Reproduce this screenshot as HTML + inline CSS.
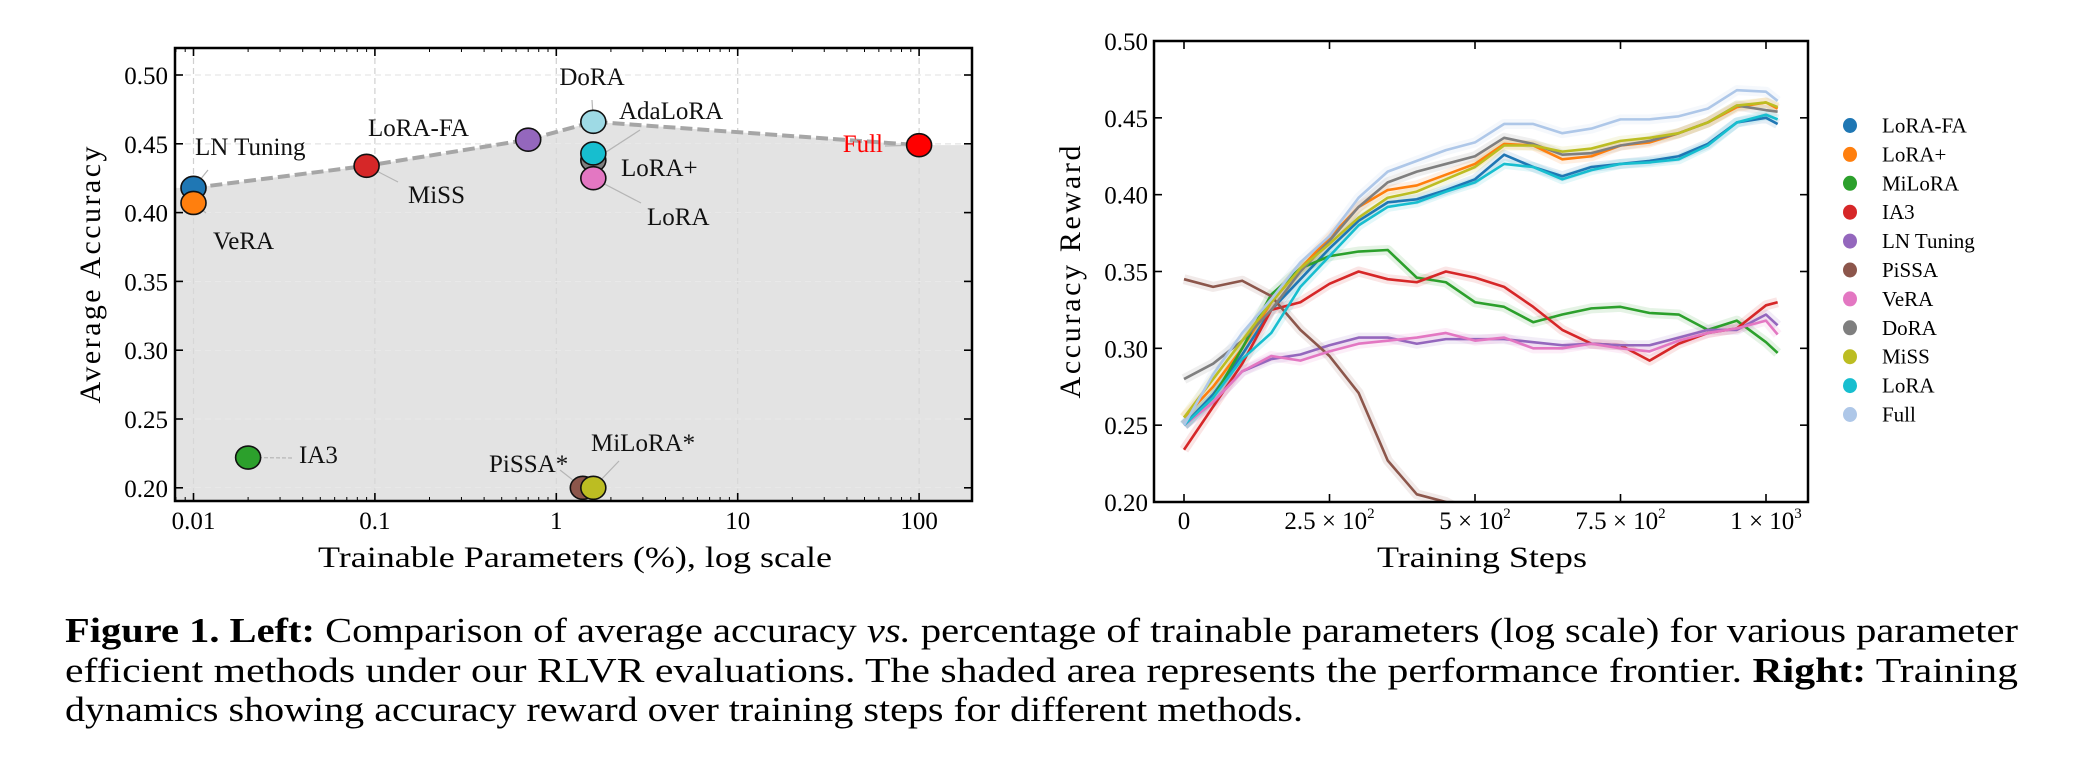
<!DOCTYPE html>
<html><head><meta charset="utf-8"><style>
html,body{margin:0;padding:0;background:#fff;}
svg{display:block;font-family:"Liberation Serif",serif;}
</style></head><body>
<svg id="fig" width="2090" height="766" viewBox="0 0 2090 766" xmlns="http://www.w3.org/2000/svg">
<defs>
<clipPath id="lclip"><rect x="175" y="48" width="797" height="453"/></clipPath>
<clipPath id="rclip"><rect x="1154" y="41" width="654" height="461"/></clipPath>
</defs>
<g id="left"></g>
<g id="right"></g>
<g font-size="35" fill="#000">
<text x="65" y="642" textLength="1953" lengthAdjust="spacingAndGlyphs"><tspan font-weight="bold">Figure 1. Left:</tspan> Comparison of average accuracy <tspan font-style="italic">vs.</tspan> percentage of trainable parameters (log scale) for various parameter</text>
<text x="65" y="682" textLength="1953" lengthAdjust="spacingAndGlyphs">efficient methods under our RLVR evaluations. The shaded area represents the performance frontier. <tspan font-weight="bold">Right:</tspan> Training</text>
<text x="65" y="721" textLength="1238" lengthAdjust="spacingAndGlyphs">dynamics showing accuracy reward over training steps for different methods.</text>
</g>
</svg>
<script>
// ---- Left chart data ----
const methodNames = ["LN Tuning","VeRA","MiSS","LoRA-FA","DoRA","AdaLoRA","LoRA+","LoRA","Full","IA3","PiSSA*","MiLoRA*"];
const methodParams = [0.01,0.01,0.09,0.7,1.6,1.6,1.6,1.6,100,0.02,1.4,1.6];
const methodAcc = [0.418,0.407,0.434,0.453,0.466,0.438,0.443,0.425,0.449,0.222,0.200,0.200];
const methodColors = ["#1f77b4","#ff7f0e","#d62728","#9467bd","#9edae5","#7f7f7f","#17becf","#e377c2","#ff0000","#2ca02c","#8c564b","#bcbd22"];
const frontierParams = [0.01,0.09,0.7,1.6,100];
const frontierAcc = [0.418,0.434,0.453,0.466,0.449];
const leftYTicks = [0.20,0.25,0.30,0.35,0.40,0.45,0.50];
const leftXTicks = [0.01,0.1,1,10,100];
const leftXTickLabels = ["0.01","0.1","1","10","100"];

// ---- Right chart data ----
const steps = [0,50,100,150,200,250,300,350,400,450,500,550,600,650,700,750,800,850,900,950,1000,1020];
const seriesNames = ["LoRA-FA","LoRA+","MiLoRA","IA3","LN Tuning","PiSSA","VeRA","DoRA","MiSS","LoRA","Full"];
const seriesColors = ["#1f77b4","#ff7f0e","#2ca02c","#d62728","#9467bd","#8c564b","#e377c2","#7f7f7f","#bcbd22","#17becf","#aec7e8"];
const loraFA = [0.25,0.27,0.296,0.325,0.345,0.365,0.383,0.395,0.397,0.403,0.41,0.426,0.418,0.412,0.418,0.42,0.422,0.425,0.433,0.447,0.45,0.446];
const loraPlus = [0.255,0.275,0.30,0.33,0.352,0.372,0.392,0.403,0.406,0.413,0.42,0.433,0.432,0.423,0.425,0.432,0.434,0.44,0.447,0.457,0.46,0.456];
const milora = [0.25,0.268,0.30,0.335,0.352,0.36,0.363,0.364,0.346,0.343,0.33,0.327,0.317,0.322,0.326,0.327,0.323,0.322,0.312,0.318,0.304,0.297];
const ia3 = [0.234,0.262,0.29,0.325,0.33,0.342,0.35,0.345,0.343,0.35,0.346,0.34,0.327,0.312,0.303,0.302,0.292,0.303,0.31,0.313,0.328,0.33];
const lnTuning = [0.25,0.265,0.285,0.293,0.296,0.302,0.307,0.307,0.303,0.306,0.306,0.306,0.304,0.302,0.303,0.302,0.302,0.307,0.312,0.312,0.322,0.315];
const pissa = [0.345,0.34,0.344,0.334,0.312,0.295,0.271,0.227,0.205,0.2,0.19,0.19,0.19,0.19,0.19,0.19,0.19,0.19,0.19,0.19,0.19,0.19];
const vera = [0.25,0.265,0.285,0.295,0.292,0.298,0.303,0.305,0.307,0.31,0.305,0.307,0.30,0.30,0.303,0.30,0.298,0.305,0.31,0.313,0.318,0.309];
const dora = [0.28,0.29,0.305,0.325,0.35,0.37,0.392,0.408,0.415,0.42,0.425,0.437,0.433,0.426,0.427,0.432,0.435,0.44,0.447,0.458,0.455,0.454];
const miss = [0.255,0.28,0.305,0.33,0.352,0.368,0.385,0.398,0.402,0.41,0.418,0.432,0.432,0.428,0.43,0.435,0.437,0.44,0.447,0.458,0.46,0.457];
const lora = [0.25,0.268,0.293,0.31,0.34,0.36,0.38,0.392,0.395,0.402,0.408,0.42,0.418,0.41,0.416,0.42,0.421,0.423,0.432,0.447,0.452,0.449];
const full = [0.25,0.283,0.31,0.332,0.356,0.373,0.398,0.415,0.422,0.429,0.434,0.446,0.446,0.44,0.443,0.449,0.449,0.451,0.456,0.468,0.467,0.461];
const rightYTicks = [0.20,0.25,0.30,0.35,0.40,0.45,0.50];
const rightXTicks = [0,250,500,750,1000];

const NS = "http://www.w3.org/2000/svg";
function mk(parent, tag, attrs, text){
  const e = document.createElementNS(NS, tag);
  for (const k in attrs) e.setAttribute(k, attrs[k]);
  if (text !== undefined) e.textContent = text;
  parent.appendChild(e);
  return e;
}

// ===== LEFT =====
const L = document.getElementById('left');
const LX0=175, LX1=972, LY0=48, LY1=501;
function lx(v){ return 193.5 + (Math.log10(v)+2)*181.4; }
function ly(v){ return 75 + (0.5 - v)*1376; }
const lplot = mk(L,'g',{'clip-path':'url(#lclip)'});


leftYTicks.forEach(t=>{
  const g = mk(lplot,'line',{x1:LX0,x2:LX1,y1:ly(t),y2:ly(t),stroke:'#d0d0d0','stroke-width':1.2,'stroke-dasharray':'6,4'});
  
  
});
leftXTicks.forEach(t=>{
  const g = mk(lplot,'line',{x1:lx(t),x2:lx(t),y1:LY0,y2:LY1,stroke:'#d0d0d0','stroke-width':1.2,'stroke-dasharray':'6,4'});
  
  
});
let pts = [[LX0, ly(frontierAcc[0])]];
frontierParams.forEach((p,i)=>pts.push([lx(p), ly(frontierAcc[i])]));
pts.push([LX1, ly(frontierAcc[frontierAcc.length-1])]);
pts.push([LX1, LY1]); pts.push([LX0, LY1]);
const fill = mk(lplot,'polygon',{points:pts.map(p=>p.join(',')).join(' '),fill:'#d9d9d9','fill-opacity':0.75});


leftYTicks.forEach(t=>{
  const g = mk(lplot,'line',{x1:LX0,x2:LX1,y1:ly(t),y2:ly(t),stroke:'#ececec','stroke-width':1,'stroke-dasharray':'6,4'});
  
  
});
const fl = mk(lplot,'polyline',{points:frontierParams.map((p,i)=>lx(p)+','+ly(frontierAcc[i])).join(' '),fill:'none',stroke:'#a6a6a6','stroke-width':4,'stroke-dasharray':'12,5'});



const labelPos = {
 "LN Tuning":[195,155,'start',[208,170]],
 "VeRA":[213,249,'start',[206,213]],
 "MiSS":[408,203,'start',[398,182]],
 "LoRA-FA":[368,136,'start',[515,138]],
 "DoRA":[592,85,'middle',[592,100]],
 "AdaLoRA":[619,119,'start',[640,130]],
 "LoRA+":[621,176,'start',[606,162]],
 "LoRA":[647,225,'start',[641,203]],
 "Full":[883,152,'end',[885,146]],
 "IA3":[299,463,'start',[292,458]],
 "PiSSA*":[489,472,'start',[560,470]],
 "MiLoRA*":[591,451,'start',[619,461]]
};
methodNames.forEach((n,i)=>{
  const px=lx(methodParams[i]), py=ly(methodAcc[i]);
  const lp=labelPos[n];
  const c = mk(L,'line',{x1:lp[3][0],y1:lp[3][1],x2:px,y2:py,stroke:'#b5b5b5','stroke-width':1.2,'stroke-dasharray':n==="IA3"?'4,2':'none'});
  
  
});
methodNames.forEach((n,i)=>{
  const m = mk(L,'ellipse',{cx:lx(methodParams[i]),cy:ly(methodAcc[i]),rx:12.5,ry:11.5,fill:methodColors[i],stroke:'#111','stroke-width':1.6});
  
  
});
methodNames.forEach((n,i)=>{
  const lp=labelPos[n];
  const t = mk(L,'text',{x:lp[0],y:lp[1],'text-anchor':lp[2],'font-size':25,fill:n==="Full"?'#ff0000':'#111'},n);
  
  
});
const lf = mk(L,'rect',{x:LX0,y:LY0,width:LX1-LX0,height:LY1-LY0,fill:'none',stroke:'#000','stroke-width':2.5});


leftYTicks.forEach((t,i)=>{
  const y=ly(t);
  const a=mk(L,'line',{x1:LX0,x2:LX0+8,y1:y,y2:y,stroke:'#000','stroke-width':1.6});
  
  
  const b=mk(L,'line',{x1:LX1-8,x2:LX1,y1:y,y2:y,stroke:'#000','stroke-width':1.6});
  
  
  const tl=mk(L,'text',{x:LX0-7,y:y+9,'text-anchor':'end','font-size':25},t.toFixed(2));
  
  
});
for(let d=-3; d<=2; d++){
  for(let m=1; m<=9; m++){
    const v=m*Math.pow(10,d); const x=lx(v);
    if(x<LX0||x>LX1) continue;
    const len = m===1?8:4;
    const a=mk(L,'line',{x1:x,x2:x,y1:LY1,y2:LY1-len,stroke:'#000','stroke-width':m===1?1.6:1});
    
    
    const b=mk(L,'line',{x1:x,x2:x,y1:LY0,y2:LY0+len,stroke:'#000','stroke-width':m===1?1.6:1});
    
    
  }
}
leftXTicks.forEach((t,i)=>{
  const tl=mk(L,'text',{x:lx(t),y:529,'text-anchor':'middle','font-size':25},leftXTickLabels[i]);
  
  
});
const lxt=mk(L,'text',{x:575,y:567,'text-anchor':'middle','font-size':30,textLength:514,lengthAdjust:'spacingAndGlyphs'},'Trainable Parameters (%), log scale');


const lyt=mk(L,'text',{x:0,y:0,'text-anchor':'middle','font-size':30,transform:'translate(100,275) rotate(-90)',textLength:257,lengthAdjust:'spacing'},'Average Accuracy');



// ===== RIGHT =====
const R = document.getElementById('right');
const RX0=1154, RX1=1808, RY0=41, RY1=502;
function rx(s){ return 1184 + s*0.582; }
function ry(v){ return RY0 + (0.5 - v)*(RY1-RY0)/0.3; }
const allSeries=[loraFA,loraPlus,milora,ia3,lnTuning,pissa,vera,dora,miss,lora,full];
const rplot = mk(R,'g',{'clip-path':'url(#rclip)'});


allSeries.forEach((s,k)=>{
  const p = mk(rplot,'polyline',{points:steps.map((st,i)=>rx(st)+','+ry(s[i])).join(' '),fill:'none',stroke:seriesColors[k],'stroke-width':10,'stroke-opacity':0.12,'stroke-linejoin':'round'});
  
  
});
allSeries.forEach((s,k)=>{
  const p = mk(rplot,'polyline',{points:steps.map((st,i)=>rx(st)+','+ry(s[i])).join(' '),fill:'none',stroke:seriesColors[k],'stroke-width':2.6,'stroke-linejoin':'round'});
  
  
});
const rf = mk(R,'rect',{x:RX0,y:RY0,width:RX1-RX0,height:RY1-RY0,fill:'none',stroke:'#000','stroke-width':2.5});


rightYTicks.forEach(t=>{
  const y=ry(t);
  const a=mk(R,'line',{x1:RX0,x2:RX0+8,y1:y,y2:y,stroke:'#000','stroke-width':1.6});
  
  
  const b=mk(R,'line',{x1:RX1-8,x2:RX1,y1:y,y2:y,stroke:'#000','stroke-width':1.6});
  
  
  const tl=mk(R,'text',{x:RX0-6,y:y+9,'text-anchor':'end','font-size':25},t.toFixed(2));
  
  
});
const rxLabels=[["0",""],["2.5 × 10","2"],["5 × 10","2"],["7.5 × 10","2"],["1 × 10","3"]];
rightXTicks.forEach((t,i)=>{
  const x=rx(t);
  const a=mk(R,'line',{x1:x,x2:x,y1:RY1,y2:RY1-8,stroke:'#000','stroke-width':1.6});
  
  
  const b=mk(R,'line',{x1:x,x2:x,y1:RY0,y2:RY0+8,stroke:'#000','stroke-width':1.6});
  
  
  const tl=mk(R,'text',{x:x,y:529,'text-anchor':'middle','font-size':25},rxLabels[i][0]);
  
  
  if(rxLabels[i][1]){
    mk(tl,'tspan',{'font-size':15,dy:-11},rxLabels[i][1]);
  }
});
const rxt=mk(R,'text',{x:1482,y:567,'text-anchor':'middle','font-size':30,textLength:210,lengthAdjust:'spacingAndGlyphs'},'Training Steps');


const ryt=mk(R,'text',{x:0,y:0,'text-anchor':'middle','font-size':30,transform:'translate(1080,272) rotate(-90)',textLength:253,lengthAdjust:'spacing'},'Accuracy Reward');


const leg = mk(R,'g',{});


seriesNames.forEach((n,k)=>{
  const y=125.5+k*28.9;
  const d=mk(leg,'ellipse',{cx:1850,cy:y,rx:7,ry:7.5,fill:seriesColors[k]});
  
  
  const t=mk(leg,'text',{x:1882,y:y+7,'font-size':21},n);
  
  
});
</script>
</body></html>
